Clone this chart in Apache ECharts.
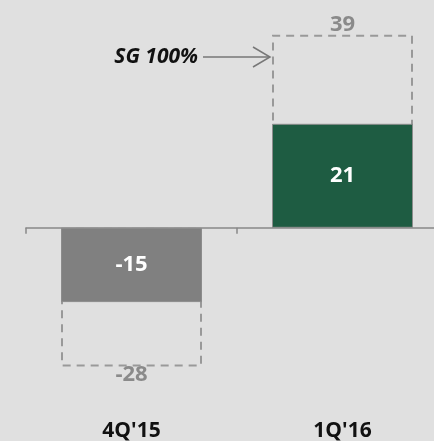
<!DOCTYPE html>
<html><head><meta charset="utf-8">
<script src="https://cdn.jsdelivr.net/npm/echarts@6/dist/echarts.min.js"></script>
<style>html,body{margin:0;padding:0;background:#e0e0e0}#c{width:434px;height:441px}</style>
</head><body><div id="c"></div>
<script>
const categories = ["4Q'15", "1Q'16"];
const actualValues = [-15, 21];
const sgValues = [-28, 39];
const annotationText = 'SG 100%';

const chart = echarts.init(document.getElementById('c'), null, {renderer: 'canvas'});
const FONT = '"Open Sans", sans-serif';
chart.setOption({
  backgroundColor: '#e0e0e0',
  animation: false,
  grid: {left: 26, right: -14, top: 0, bottom: 25, outerBoundsMode: 'none', containLabel: false},
  xAxis: [{
    type: 'category', data: categories, position: 'bottom',
    axisLine: {onZero: true, lineStyle: {color: '#888', width: 1.5}},
    axisTick: {show: true, length: 6, lineStyle: {color: '#888', width: 1.5}},
    axisLabel: {show: false}
  }, {
    type: 'category', data: categories, position: 'bottom',
    axisLine: {show: false, onZero: false}, axisTick: {show: false},
    axisLabel: {show: true, margin: 5, color: '#111', fontWeight: 'bold', fontSize: 21, fontFamily: FONT}
  }],
  yAxis: {type: 'value', min: -38, max: 46, show: false, splitLine: {show: false}},
  series: [{
    type: 'bar', name: 'SG', barWidth: 141, barGap: '-100%', z: 1,
    data: sgValues.map(v => ({value: v, label: v < 0 ? {position: 'bottom', distance: -3} : {position: 'top', distance: -1}})),
    itemStyle: {color: 'rgba(0,0,0,0)', borderColor: '#999', borderWidth: 2, borderType: [8, 6]},
    label: {show: true, color: '#8a8a8a', fontWeight: 'bold', fontSize: 22, fontFamily: FONT,
      formatter: p => String(p.value)}
  }, {
    type: 'bar', name: 'Actual', data: actualValues.map(v => ({
      value: v,
      itemStyle: {color: v < 0 ? '#808080' : '#1e5c42'}
    })), barWidth: 141, z: 3,
    itemStyle: {borderColor: '#8c8c8c', borderWidth: 1},
    label: {show: true, position: 'inside', color: '#fff', fontWeight: 'bold', fontSize: 22, fontFamily: FONT}
  }]
});

function drawAnno() {
  const idx = sgValues.findIndex(v => v > 0);
  const center = chart.convertToPixel({xAxisIndex: 0, yAxisIndex: 0}, [idx, 0]);
  const tipX = center[0] - 141 / 2 - 2;
  const y = 57;
  const startX = tipX - 67;
  chart.setOption({graphic: [
    {type: 'line', shape: {x1: startX, y1: y, x2: tipX, y2: y}, style: {stroke: '#777', lineWidth: 1.5}},
    {type: 'polyline', shape: {points: [[tipX - 17, y - 10], [tipX, y], [tipX - 17, y + 10]]}, style: {stroke: '#777', lineWidth: 1.5, fill: null}},
    {type: 'text', x: startX - 5, y: y, style: {text: annotationText, align: 'right', verticalAlign: 'middle',
      font: 'italic bold 21px "Open Sans", sans-serif', fill: '#111'}}
  ]});
}
drawAnno();
</script></body></html>
